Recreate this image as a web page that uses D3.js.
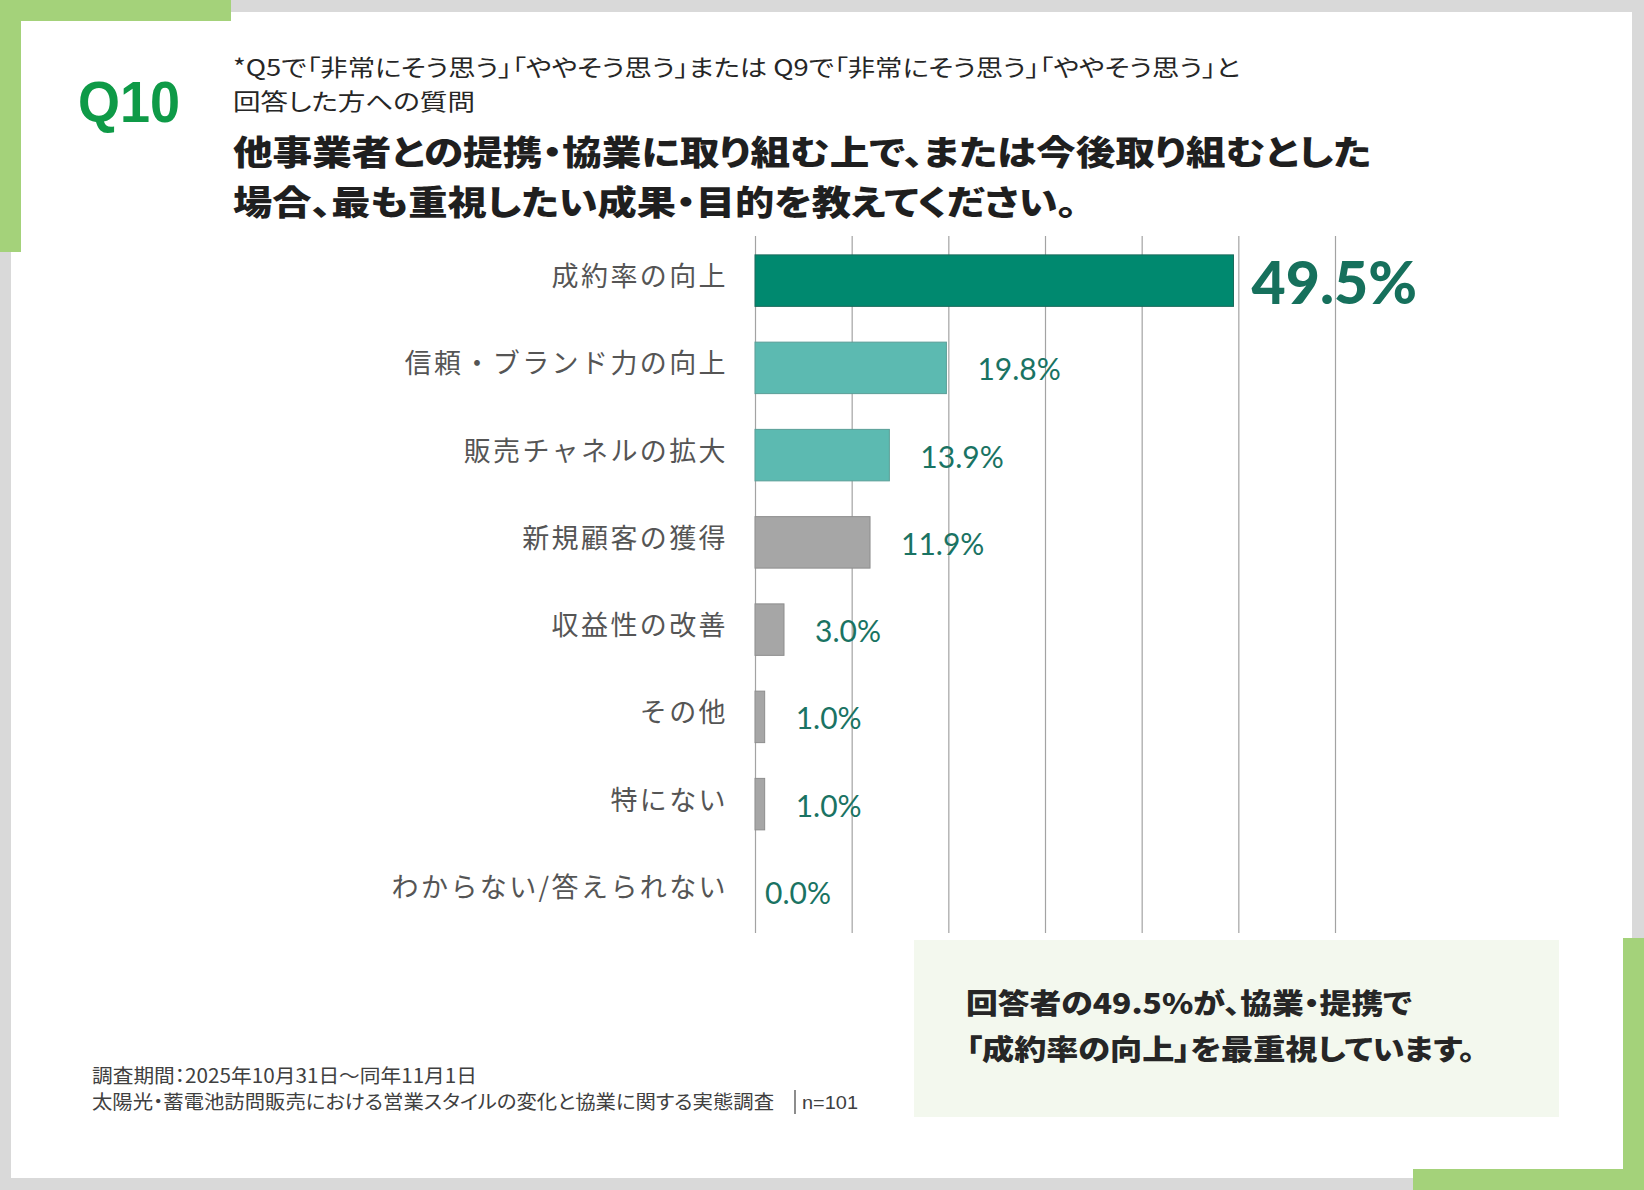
<!DOCTYPE html>
<html lang="ja">
<head>
<meta charset="utf-8">
<script src="https://cdn.jsdelivr.net/npm/d3@7"></script>
<style>
  html, body { margin: 0; padding: 0; background: #d9d9d9; }
  svg { display: block; }
  .jp { font-family: "Noto Sans CJK JP", "Noto Sans", sans-serif; }
  .palt { font-feature-settings: "palt"; }
</style>
</head>
<body>
<svg id="chart" width="1644" height="1190"></svg>
<script>
// ---- data ----
const categories = [
  "成約率の向上",
  "信頼・ブランド力の向上",
  "販売チャネルの拡大",
  "新規顧客の獲得",
  "収益性の改善",
  "その他",
  "特にない",
  "わからない/答えられない"
];
const values = [49.5, 19.8, 13.9, 11.9, 3.0, 1.0, 1.0, 0.0];
const tickValues = [0, 10, 20, 30, 40, 50, 60];
const questionNo = "Q10";
const subtitleLines = [
  "*Q5で「非常にそう思う」「ややそう思う」または Q9で「非常にそう思う」「ややそう思う」と",
  "回答した方への質問"
];
const titleLines = [
  "他事業者との提携・協業に取り組む上で、または今後取り組むとした",
  "場合、最も重視したい成果・目的を教えてください。"
];
const calloutLines = [
  "回答者の49.5%が、協業・提携で",
  "「成約率の向上」を最重視しています。"
];
const footerLine1 = "調査期間：2025年10月31日～同年11月1日";
const footerLine2 = "太陽光・蓄電池訪問販売における営業スタイルの変化と協業に関する実態調査";
const footerN = "n=101";

// ---- drawing ----
const svg = d3.select("#chart");
const green = "#a4d27a";

// card
svg.append("rect").attr("x", 11).attr("y", 12).attr("width", 1621).attr("height", 1166).attr("fill", "#ffffff");
// corner decorations
svg.append("rect").attr("x", 0).attr("y", 0).attr("width", 231).attr("height", 21).attr("fill", green);
svg.append("rect").attr("x", 0).attr("y", 0).attr("width", 21).attr("height", 252).attr("fill", green);
svg.append("rect").attr("x", 1623).attr("y", 938).attr("width", 21).attr("height", 252).attr("fill", green);
svg.append("rect").attr("x", 1413).attr("y", 1169).attr("width", 231).attr("height", 21).attr("fill", green);

// Q number
svg.append("text").text(questionNo)
  .attr("x", 78).attr("y", 122)
  .attr("font-family", "Liberation Sans, Arial, sans-serif")
  .attr("font-weight", "bold").attr("font-size", 58)
  .attr("fill", "#0e9a47")
  .attr("textLength", 102).attr("lengthAdjust", "spacingAndGlyphs");

// subtitle
const subWidths = [1007, 242];
subtitleLines.forEach((t, i) => {
  svg.append("text").attr("class", "jp palt").text(t)
    .attr("x", 233).attr("y", 76 + i * 34)
    .attr("font-size", 23).attr("fill", "#262626")
    .attr("textLength", subWidths[i]).attr("lengthAdjust", "spacingAndGlyphs");
});

// title
const titleWidths = [1138, 844];
titleLines.forEach((t, i) => {
  svg.append("text").attr("class", "jp palt").text(t)
    .attr("x", 233).attr("y", 165 + i * 50)
    .attr("font-size", 34).attr("font-weight", 900).attr("fill", "#1f1f1f")
    .attr("textLength", titleWidths[i]).attr("lengthAdjust", "spacingAndGlyphs");
});

// scales
const x = d3.scaleLinear().domain([0, 60]).range([755, 1335]);
const y = d3.scaleBand().domain(categories).range([237, 935]).paddingInner(0.41).paddingOuter(0.205);

// gridlines via axis
const gAxis = svg.append("g").attr("transform", "translate(0,933)")
  .call(d3.axisBottom(x).tickValues(tickValues).tickSize(-697).tickFormat(""));
gAxis.select(".domain").remove();
gAxis.selectAll(".tick line").attr("stroke", "#a3a3a3").attr("stroke-width", 1.2);

// bars
const fills = (i) => i === 0 ? "#00896f" : (i < 3 ? "#5cbab1" : "#a6a6a6");
const strokes = (i) => i === 0 ? "#1b6b5c" : (i < 3 ? "#5a9e97" : "#8e8e8e");
svg.append("g").selectAll("rect").data(values).join("rect")
  .attr("x", x(0))
  .attr("y", (d, i) => y(categories[i]))
  .attr("width", d => x(d) - x(0))
  .attr("height", y.bandwidth())
  .attr("fill", (d, i) => fills(i))
  .attr("stroke", (d, i) => d > 0 ? strokes(i) : "none")
  .attr("stroke-width", 1);

// category labels
svg.append("g").selectAll("text").data(categories).join("text")
  .attr("class", "jp")
  .attr("x", 728)
  .attr("y", d => y(d) + y.bandwidth() / 2 - 4)
  .attr("dy", "0.35em")
  .attr("text-anchor", "end")
  .attr("font-size", 27).attr("letter-spacing", 2.4)
  .attr("fill", "#555555")
  .text(d => d);

// value labels
svg.append("g").selectAll("text").data(values).join("text")
  .attr("x", (d, i) => x(d) + (i === 0 ? 18 : (d > 0 ? 31 : 10)))
  .attr("y", (d, i) => y(categories[i]) + y.bandwidth() / 2 + (i === 0 ? 3 : 2))
  .attr("dy", "0.35em")
  .attr("font-family", "Lato, Roboto, sans-serif")
  .attr("font-weight", (d, i) => i === 0 ? 900 : 400)
  .attr("font-size", (d, i) => i === 0 ? 59 : 30)
  .attr("fill", (d, i) => i === 0 ? "#16705c" : "#1a7363")
  .text(d => d.toFixed(1) + "%");

// callout box
svg.append("rect").attr("x", 914).attr("y", 940).attr("width", 645).attr("height", 177).attr("fill", "#f3f8ee");
const calloutWidths = [446, 509];
calloutLines.forEach((t, i) => {
  svg.append("text").attr("class", "jp palt").text(t)
    .attr("x", 966).attr("y", 1014 + i * 46)
    .attr("font-size", 28.5).attr("font-weight", 900).attr("fill", "#262626")
    .attr("textLength", calloutWidths[i]).attr("lengthAdjust", "spacingAndGlyphs");
});

// footer
svg.append("text").attr("class", "jp palt").text(footerLine1)
  .attr("x", 92).attr("y", 1083)
  .attr("font-size", 19.5).attr("fill", "#404040")
  .attr("textLength", 385).attr("lengthAdjust", "spacingAndGlyphs");
svg.append("text").attr("class", "jp palt").text(footerLine2)
  .attr("x", 92).attr("y", 1109)
  .attr("font-size", 19.5).attr("fill", "#404040")
  .attr("textLength", 682).attr("lengthAdjust", "spacingAndGlyphs");
svg.append("line").attr("x1", 795).attr("x2", 795).attr("y1", 1090).attr("y2", 1114)
  .attr("stroke", "#404040").attr("stroke-width", 1.2);
svg.append("text").text(footerN)
  .attr("x", 802).attr("y", 1109)
  .attr("font-family", "Liberation Sans, Arial, sans-serif")
  .attr("font-size", 19).attr("fill", "#404040")
  .attr("textLength", 56).attr("lengthAdjust", "spacingAndGlyphs");
</script>
</body>
</html>
